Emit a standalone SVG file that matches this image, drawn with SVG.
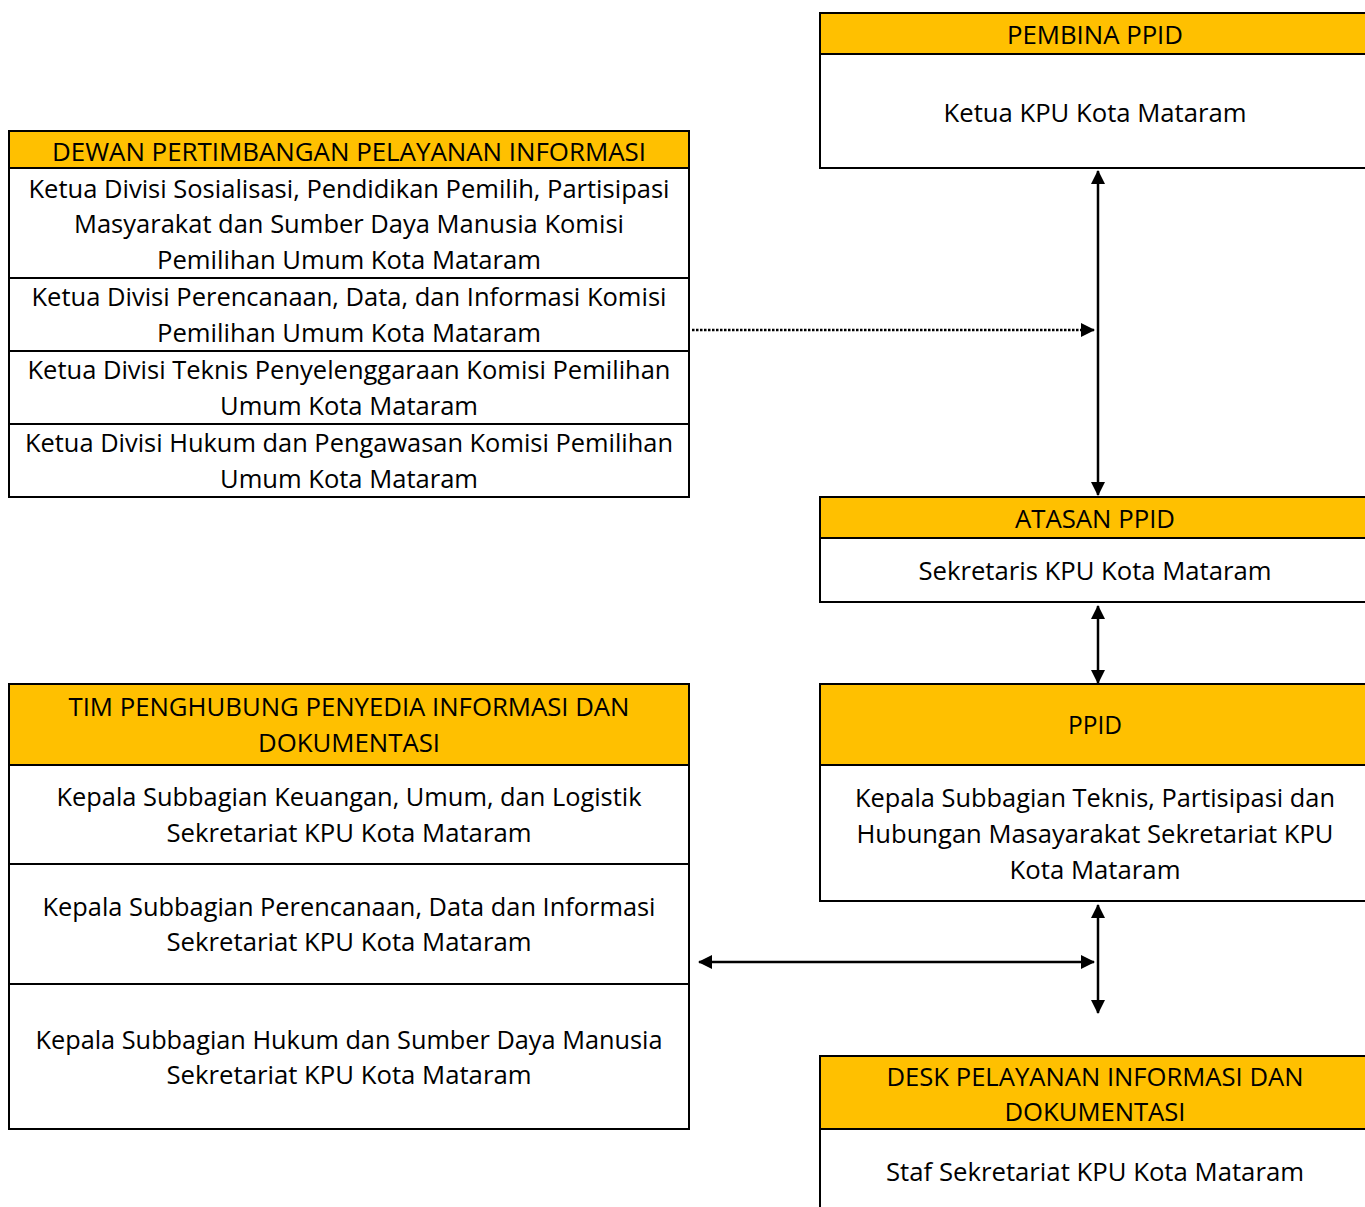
<svg xmlns="http://www.w3.org/2000/svg" width="1365" height="1207" viewBox="0 0 1365 1207">
<style>
.box{fill:#fff;stroke:#000;stroke-width:2}
.hd{fill:#FFC000;stroke:#000;stroke-width:2}
.ln{stroke:#000;stroke-width:2;fill:none}
text{font-family:"Open Sans","Noto Sans",sans-serif;font-size:25px;fill:#000;text-anchor:middle}
.c{stroke:#000;stroke-width:2.5;fill:none}
</style>
<defs>
<marker id="ah" viewBox="0 0 14 14" refX="13" refY="7" markerWidth="14" markerHeight="14" markerUnits="userSpaceOnUse" orient="auto-start-reverse">
<path d="M0,0 L14,7 L0,14 z" fill="#000"/>
</marker>
</defs>
<rect width="1365" height="1207" fill="#fff"/>

<g id="pembina">
<rect class="box" x="820" y="13" width="560" height="155"/>
<rect class="hd" x="820" y="13" width="560" height="41"/>
<text x="1095" y="44" textLength="176" lengthAdjust="spacingAndGlyphs">PEMBINA PPID</text>
<text x="1095" y="122" textLength="303" lengthAdjust="spacingAndGlyphs">Ketua KPU Kota Mataram</text>
</g>

<g id="dewan">
<rect class="box" x="9" y="131" width="680" height="366"/>
<rect class="hd" x="9" y="131" width="680" height="37"/>
<text x="349" y="161" textLength="594" lengthAdjust="spacingAndGlyphs">DEWAN PERTIMBANGAN PELAYANAN INFORMASI</text>
<text x="349" y="198" textLength="641" lengthAdjust="spacingAndGlyphs">Ketua Divisi Sosialisasi, Pendidikan Pemilih, Partisipasi</text>
<text x="349" y="233" textLength="550" lengthAdjust="spacingAndGlyphs">Masyarakat dan Sumber Daya Manusia Komisi</text>
<text x="349" y="269" textLength="384" lengthAdjust="spacingAndGlyphs">Pemilihan Umum Kota Mataram</text>
<line class="ln" x1="9" y1="278" x2="689" y2="278"/>
<text x="349" y="306" textLength="635" lengthAdjust="spacingAndGlyphs">Ketua Divisi Perencanaan, Data, dan Informasi Komisi</text>
<text x="349" y="342" textLength="384" lengthAdjust="spacingAndGlyphs">Pemilihan Umum Kota Mataram</text>
<line class="ln" x1="9" y1="351" x2="689" y2="351"/>
<text x="349" y="379" textLength="643" lengthAdjust="spacingAndGlyphs">Ketua Divisi Teknis Penyelenggaraan Komisi Pemilihan</text>
<text x="349" y="415" textLength="258" lengthAdjust="spacingAndGlyphs">Umum Kota Mataram</text>
<line class="ln" x1="9" y1="424" x2="689" y2="424"/>
<text x="349" y="452" textLength="648" lengthAdjust="spacingAndGlyphs">Ketua Divisi Hukum dan Pengawasan Komisi Pemilihan</text>
<text x="349" y="488" textLength="258" lengthAdjust="spacingAndGlyphs">Umum Kota Mataram</text>
</g>

<g id="atasan">
<rect class="box" x="820" y="497" width="560" height="105"/>
<rect class="hd" x="820" y="497" width="560" height="41"/>
<text x="1095" y="528" textLength="160" lengthAdjust="spacingAndGlyphs">ATASAN PPID</text>
<text x="1095" y="580" textLength="353" lengthAdjust="spacingAndGlyphs">Sekretaris KPU Kota Mataram</text>
</g>

<g id="ppid">
<rect class="box" x="820" y="684" width="560" height="217"/>
<rect class="hd" x="820" y="684" width="560" height="81"/>
<text x="1095" y="734" textLength="54" lengthAdjust="spacingAndGlyphs">PPID</text>
<text x="1095" y="807" textLength="480" lengthAdjust="spacingAndGlyphs">Kepala Subbagian Teknis, Partisipasi dan</text>
<text x="1095" y="843" textLength="477" lengthAdjust="spacingAndGlyphs">Hubungan Masayarakat Sekretariat KPU</text>
<text x="1095" y="879" textLength="171" lengthAdjust="spacingAndGlyphs">Kota Mataram</text>
</g>

<g id="tim">
<rect class="box" x="9" y="684" width="680" height="445"/>
<rect class="hd" x="9" y="684" width="680" height="81"/>
<text x="349" y="716" textLength="561" lengthAdjust="spacingAndGlyphs">TIM PENGHUBUNG PENYEDIA INFORMASI DAN</text>
<text x="349" y="752" textLength="182" lengthAdjust="spacingAndGlyphs">DOKUMENTASI</text>
<text x="349" y="806" textLength="585" lengthAdjust="spacingAndGlyphs">Kepala Subbagian Keuangan, Umum, dan Logistik</text>
<text x="349" y="842" textLength="365" lengthAdjust="spacingAndGlyphs">Sekretariat KPU Kota Mataram</text>
<line class="ln" x1="9" y1="864" x2="689" y2="864"/>
<text x="349" y="916" textLength="613" lengthAdjust="spacingAndGlyphs">Kepala Subbagian Perencanaan, Data dan Informasi</text>
<text x="349" y="951" textLength="365" lengthAdjust="spacingAndGlyphs">Sekretariat KPU Kota Mataram</text>
<line class="ln" x1="9" y1="984" x2="689" y2="984"/>
<text x="349" y="1049" textLength="627" lengthAdjust="spacingAndGlyphs">Kepala Subbagian Hukum dan Sumber Daya Manusia</text>
<text x="349" y="1084" textLength="365" lengthAdjust="spacingAndGlyphs">Sekretariat KPU Kota Mataram</text>
</g>

<g id="desk">
<rect class="box" x="820" y="1056" width="560" height="170"/>
<rect class="hd" x="820" y="1056" width="560" height="73"/>
<text x="1095" y="1086" textLength="417" lengthAdjust="spacingAndGlyphs">DESK PELAYANAN INFORMASI DAN</text>
<text x="1095" y="1121" textLength="181" lengthAdjust="spacingAndGlyphs">DOKUMENTASI</text>
<text x="1095" y="1181" textLength="418" lengthAdjust="spacingAndGlyphs">Staf Sekretariat KPU Kota Mataram</text>
</g>

<g id="connectors">
<line class="c" x1="1098" y1="171" x2="1098" y2="495" marker-start="url(#ah)" marker-end="url(#ah)"/>
<line class="c" x1="692" y1="330" x2="1094" y2="330" stroke-width="3" stroke-dasharray="2.5 1.5" marker-end="url(#ah)"/>
<line class="c" x1="1098" y1="606" x2="1098" y2="683" marker-start="url(#ah)" marker-end="url(#ah)"/>
<line class="c" x1="1098" y1="905" x2="1098" y2="1013" marker-start="url(#ah)" marker-end="url(#ah)"/>
<line class="c" x1="699" y1="962" x2="1094" y2="962" marker-start="url(#ah)" marker-end="url(#ah)"/>
</g>
</svg>
